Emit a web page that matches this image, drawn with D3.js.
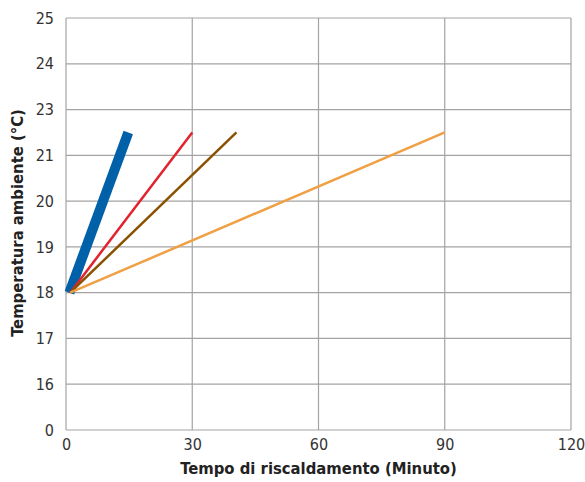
<!DOCTYPE html>
<html>
<head>
<meta charset="utf-8">
<script src="https://cdn.jsdelivr.net/npm/d3@7"></script>
<style>
  body { margin: 0; background: #fff; }
  svg { display: block; }
  .tick text { font-family: "DejaVu Sans Condensed", "DejaVu Sans", sans-serif; font-size: 16px; fill: #333; }
  .title { font-family: "DejaVu Sans Condensed", "DejaVu Sans", sans-serif; font-size: 16.5px; font-weight: bold; fill: #222; }
</style>
</head>
<body>
<svg id="svg" width="585" height="482"></svg>
<script>
// y axis labels as printed (unevenly valued, evenly spaced)
var yTicks = [0, 16, 17, 18, 19, 20, 21, 23, 24, 25];
var xTicks = [0, 30, 60, 90, 120];

var series = ["blu", "rosso", "marrone", "arancio"];
var colors = ["#0060a8", "#e2232d", "#8a5200", "#f0a044"];
var widths = [10, 2.5, 2.5, 2.5];
var startX = [0.8, 1, 1, 1];
var startY = [18, 18, 18, 18];
var endX = [14.8, 30, 40.5, 90];
var endY = [22, 22, 22, 22];

var svg = d3.select("#svg");
var mLeft = 66, mRight = 571, mTop = 18, mBottom = 430;

var x = d3.scaleLinear().domain([0, 120]).range([mLeft, mRight]);
var yRange = yTicks.map(function (d, i) {
  return mBottom - i * (mBottom - mTop) / (yTicks.length - 1);
});
var y = d3.scaleLinear().domain(yTicks).range(yRange);

// grid
svg.append("g")
  .selectAll("line")
  .data(yTicks)
  .join("line")
  .attr("x1", mLeft).attr("x2", mRight)
  .attr("y1", function (d) { return y(d); })
  .attr("y2", function (d) { return y(d); })
  .attr("stroke", "#a3a3a3").attr("stroke-width", 1.2);

svg.append("g")
  .selectAll("line")
  .data(xTicks)
  .join("line")
  .attr("x1", function (d) { return x(d); })
  .attr("x2", function (d) { return x(d); })
  .attr("y1", mTop).attr("y2", mBottom)
  .attr("stroke", "#a3a3a3").attr("stroke-width", 1.2);

// axes (labels only)
var xAxis = svg.append("g")
  .attr("transform", "translate(0," + mBottom + ")")
  .call(d3.axisBottom(x).tickValues(xTicks).tickSize(0).tickPadding(9));
xAxis.select(".domain").remove();

var yAxis = svg.append("g")
  .attr("transform", "translate(" + mLeft + ",0)")
  .call(d3.axisLeft(y).tickValues(yTicks).tickSize(0).tickPadding(12));
yAxis.select(".domain").remove();

// lines
var line = d3.line().x(function (d) { return x(d[0]); }).y(function (d) { return y(d[1]); });
series.forEach(function (s, i) {
  svg.append("path")
    .datum([[startX[i], startY[i]], [endX[i], endY[i]]])
    .attr("d", line)
    .attr("fill", "none")
    .attr("stroke", colors[i])
    .attr("stroke-width", widths[i]);
});

// titles
svg.append("text")
  .attr("class", "title")
  .attr("transform", "translate(" + ((mLeft + mRight) / 2) + ",474)")
  .style("text-anchor", "middle")
  .text("Tempo di riscaldamento (Minuto)");
svg.append("text")
  .attr("class", "title")
  .attr("transform", "translate(23," + 223 + ") rotate(-90)")
  .style("text-anchor", "middle")
  .text("Temperatura ambiente (°C)");
</script>
</body>
</html>
